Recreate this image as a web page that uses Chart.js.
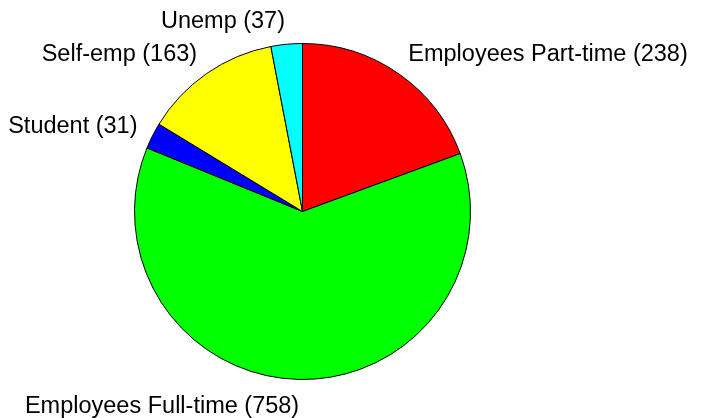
<!DOCTYPE html>
<html lang="en">

<head>
    <meta charset="UTF-8">
    <title>Pie</title>
    <script src="https://cdn.jsdelivr.net/npm/chart.js"></script>
    <style>
        body {
            margin: 0;
            background: #ffffff;
        }

        #wrap {
            width: 713px;
            height: 418px;
        }
    </style>
</head>

<body>
    <div id="wrap">
        <canvas id="pieChart" width="713" height="418"></canvas>
    </div>

    <script>
        // data
        const categories = ['Employees Part-time', 'Employees Full-time', 'Student', 'Self-emp', 'Unemp'];
        const counts = [238, 758, 31, 163, 37];

        const sliceColors = ['#FF0000', '#00FF00', '#0000FF', '#FFFF00', '#00FFFF'];
        const labelFont = "23.5px 'Liberation Sans', Arial, sans-serif";

        // draws "Name (n)" outside each slice
        const outsideLabels = {
            id: 'outsideLabels',
            afterDatasetsDraw(chart) {
                const ctx = chart.ctx;
                const meta = chart.getDatasetMeta(0);
                ctx.save();
                ctx.font = labelFont;
                ctx.fillStyle = '#000000';
                ctx.textBaseline = 'alphabetic';
                meta.data.forEach((arc, i) => {
                    const p = arc.getProps(['x', 'y', 'startAngle', 'endAngle', 'outerRadius'], true);
                    const mid = (p.startAngle + p.endAngle) / 2;
                    const ax = p.x + Math.cos(mid) * p.outerRadius * 1.1;
                    const ay = p.y + Math.sin(mid) * p.outerRadius * 1.15;
                    ctx.textAlign = Math.cos(mid) >= 0 ? 'left' : 'right';
                    ctx.fillText(categories[i] + ' (' + counts[i] + ')', ax, ay + 8.4);
                });
                ctx.restore();
            }
        };

        new Chart(document.getElementById('pieChart').getContext('2d'), {
            type: 'pie',
            data: {
                labels: categories,
                datasets: [{
                    data: counts,
                    backgroundColor: sliceColors,
                    borderColor: '#000000',
                    borderWidth: 1,
                }],
            },
            options: {
                responsive: false,
                animation: false,
                layout: {
                    padding: { left: 134, right: 242, top: 43, bottom: 38 }
                },
                plugins: {
                    legend: { display: false },
                    tooltip: { enabled: false },
                },
            },
            plugins: [outsideLabels],
        });
    </script>
</body>

</html>
